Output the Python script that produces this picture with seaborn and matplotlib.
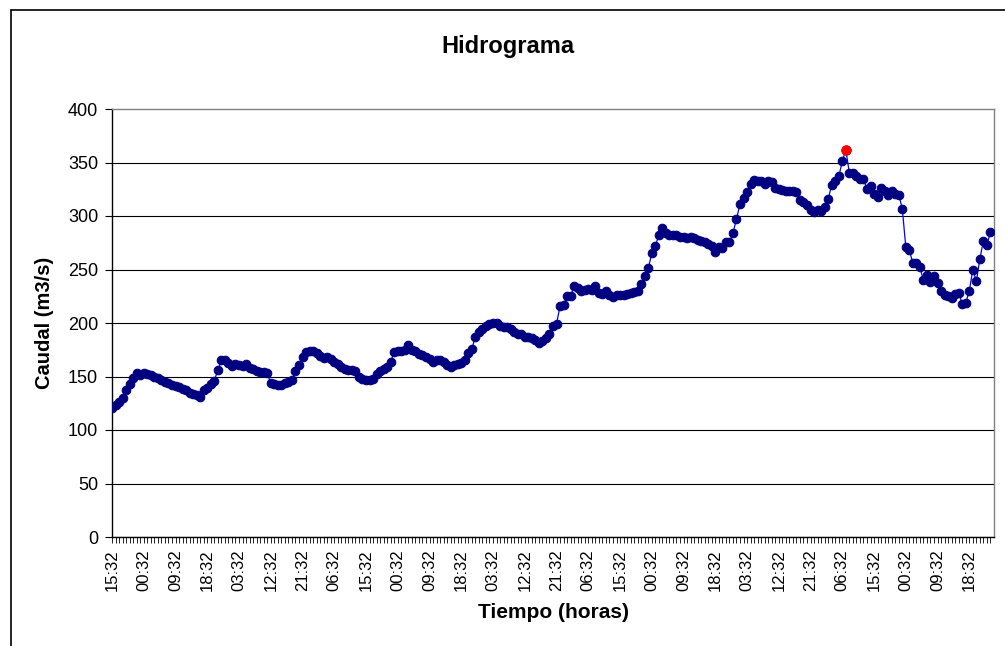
import numpy as np
import pandas as pd
import matplotlib
matplotlib.use("Agg")
import matplotlib.pyplot as plt
from matplotlib.lines import Line2D
import seaborn as sns

# caudal horario (m3/s)
caudal = [121, 123, 126, 130, 137, 143, 149, 153, 151, 153,
          152, 151, 150, 149, 147, 145, 144, 142, 141, 140,
          138, 137, 135, 134, 133, 131, 137, 139, 143, 146,
          156, 165, 165, 163, 160, 162, 161, 160, 162, 158,
          157, 155, 154, 154, 153, 144, 143, 142, 142, 144,
          145, 147, 155, 161, 168, 173, 174, 174, 172, 169,
          167, 168, 166, 164, 162, 159, 157, 156, 156, 155,
          150, 148, 147, 147, 148, 152, 155, 157, 159, 164,
          173, 174, 174, 175, 179, 175, 174, 171, 170, 168,
          166, 164, 165, 165, 164, 161, 159, 161, 162, 163,
          165, 172, 176, 187, 192, 194, 197, 199, 200, 200,
          197, 196, 196, 194, 192, 190, 190, 187, 187, 186,
          184, 181, 183, 186, 190, 197, 199, 216, 217, 225,
          225, 235, 233, 230, 231, 232, 231, 235, 228, 227,
          230, 226, 224, 226, 226, 226, 227, 228, 229, 230,
          236, 244, 251, 265, 272, 282, 289, 284, 282, 282,
          282, 280, 280, 279, 280, 279, 278, 277, 276, 274,
          272, 266, 271, 270, 276, 276, 284, 297, 311, 317,
          322, 330, 334, 333, 333, 330, 333, 332, 326, 325,
          324, 323, 323, 323, 322, 315, 313, 310, 306, 304,
          306, 305, 308, 316, 329, 333, 337, 351, 362, 340,
          340, 337, 335, 335, 325, 328, 321, 318, 326, 323,
          320, 323, 321, 320, 307, 271, 268, 256, 256, 252,
          240, 245, 238, 244, 237, 230, 226, 225, 223, 227,
          228, 218, 219, 230, 250, 239, 260, 277, 273, 285]

# etiquetas del eje x (cada 9 horas)
tick_labels = ["15:32", "00:32", "09:32", "18:32", "03:32", "12:32", "21:32", "06:32",
               "15:32", "00:32", "09:32", "18:32", "03:32", "12:32", "21:32", "06:32",
               "15:32", "00:32", "09:32", "18:32", "03:32", "12:32", "21:32", "06:32",
               "15:32", "00:32", "09:32", "18:32"]
label_step = 9

df = pd.DataFrame({"hora": np.arange(len(caudal)), "caudal": caudal})
pico = df.loc[df["caudal"].idxmax()]

sns.set_style("white")
plt.rcParams["font.family"] = ["Liberation Sans", "DejaVu Sans"]
plt.rcParams["text.color"] = "black"
plt.rcParams["xtick.color"] = "black"
plt.rcParams["ytick.color"] = "black"
plt.rcParams["axes.labelcolor"] = "black"

W, H = 1005, 646
fig = plt.figure(figsize=(W / 100, H / 100), dpi=100)
ax = fig.add_axes([112 / W, 1 - 537 / H, (994 - 112) / W, (537 - 109) / H])

sns.lineplot(data=df, x="hora", y="caudal", ax=ax, color="#0000FF", lw=0.9,
             marker="o", markersize=6.2, markerfacecolor="#000080",
             markeredgecolor="#000080", zorder=3)
sns.scatterplot(x=[pico["hora"]], y=[pico["caudal"]], ax=ax, color="#FF0000",
                s=50, edgecolor="#FF0000", linewidth=0.5, zorder=4)

ax.set_xlim(0, len(caudal))
ax.set_ylim(0, 400)
ax.set_yticks(np.arange(0, 401, 50))
ax.set_xticks(np.arange(0, len(tick_labels) * label_step, label_step))
ax.set_xticklabels(tick_labels, rotation=90)
ax.set_xticks(np.arange(0, len(caudal)), minor=True)

ax.tick_params(axis="y", which="major", direction="out", length=5, width=0.8,
               color="black", labelsize=13, pad=5, left=True)
ax.tick_params(axis="x", which="major", direction="out", length=4, width=0.6,
               color="black", labelsize=12, pad=5, bottom=True)
ax.tick_params(axis="x", which="minor", direction="out", length=4, width=0.6,
               color="black", bottom=True)

ax.yaxis.grid(True, color="black", lw=0.8)
ax.xaxis.grid(False)
for g in ax.get_ygridlines()[-1:]:
    g.set_visible(False)

for s in ["left", "bottom"]:
    ax.spines[s].set_color("black")
    ax.spines[s].set_linewidth(1.0)
for s in ["top", "right"]:
    ax.spines[s].set_color("#808080")
    ax.spines[s].set_linewidth(1.0)

ax.set_xlabel("")
ax.set_ylabel("")
fig.text(553 / W, 1 - 613 / H, "Tiempo (horas)", ha="center", va="center",
         fontsize=15, fontweight="bold")
fig.text(44 / W, 1 - 323 / H, "Caudal (m3/s)", ha="center", va="center",
         rotation=90, fontsize=14.5, fontweight="bold")
fig.text(508 / W, 1 - 46 / H, "Hidrograma", ha="center", va="center",
         fontsize=17, fontweight="bold")

# borde del area del grafico
fig.add_artist(Line2D([11 / W, 1.0], [1 - 10 / H, 1 - 10 / H], color="black", lw=1.2))
fig.add_artist(Line2D([11 / W, 11 / W], [0.0, 1 - 10 / H], color="black", lw=1.2))

fig.savefig("out.png", dpi=100)
